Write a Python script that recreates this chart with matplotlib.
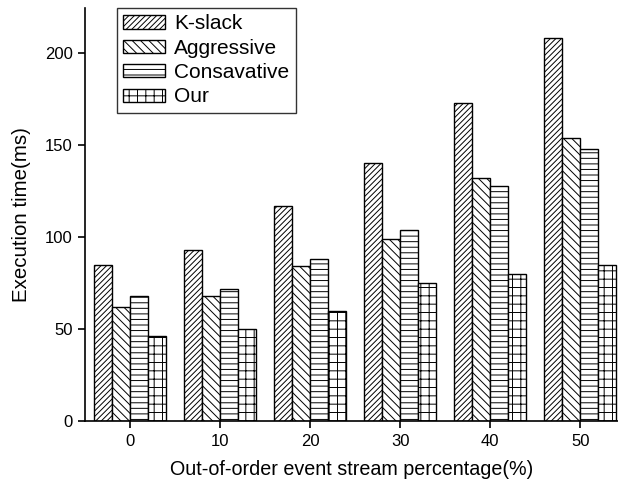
import matplotlib
matplotlib.use("Agg")
import matplotlib.pyplot as plt
import numpy as np

plt.rcParams['font.family'] = ['Liberation Sans', 'DejaVu Sans']
plt.rcParams['hatch.linewidth'] = 0.7

categories = [0, 10, 20, 30, 40, 50]
series_names = ["K-slack", "Aggressive", "Consavative", "Our"]
kslack = [85, 93, 117, 140, 173, 208]
aggressive = [62, 68, 84, 99, 132, 154]
consavative = [68, 72, 88, 104, 128, 148]
our = [46, 50, 60, 75, 80, 85]
hatches = ['//////', '\\\\\\\\', '---', '++']

fig = plt.figure(figsize=(6.18, 4.86), dpi=100)
ax = fig.add_axes([85/618, 65/486, 533/618, 413/486])

x = np.array(categories, dtype=float)
w = 2.0
data = [kslack, aggressive, consavative, our]
for i, (vals, name, h) in enumerate(zip(data, series_names, hatches)):
    ax.bar(x + (i - 1.5) * w, vals, width=w, facecolor='white', edgecolor='black',
           linewidth=1.0, hatch=h, label=name)

ax.set_xlim(-5, 54.2)
ax.set_ylim(0, 224.5)
ax.set_xticks(categories)
ax.set_yticks([0, 50, 100, 150, 200])
ax.spines['top'].set_visible(False)
ax.spines['right'].set_visible(False)
ax.spines['left'].set_linewidth(1.2)
ax.spines['bottom'].set_linewidth(1.2)
ax.tick_params(direction='out', length=5, width=1.2, labelsize=12, pad=4)
ax.set_xlabel("Out-of-order event stream percentage(%)", fontsize=14.2, labelpad=8)
ax.set_ylabel("Execution time(ms)", fontsize=14.8, labelpad=10)

leg = ax.legend(loc='upper left', bbox_to_anchor=(0.06, 1.0), fontsize=15, frameon=True,
                fancybox=False, edgecolor='black', handlelength=2.0, handleheight=0.6,
                handletextpad=0.45, borderpad=0.3, labelspacing=0.26, borderaxespad=0.0)
leg.get_frame().set_linewidth(1.0)

fig.savefig("out.png", dpi=100)
